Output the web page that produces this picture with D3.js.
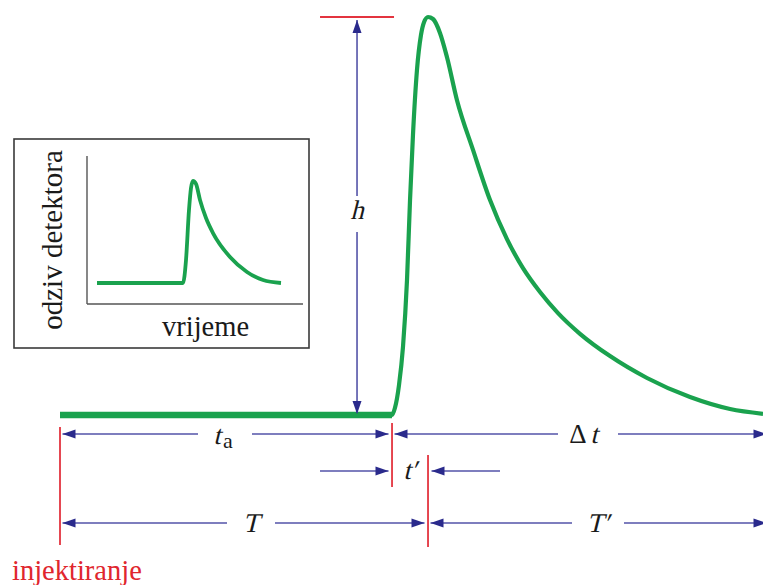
<!DOCTYPE html>
<html><head><meta charset="utf-8">
<script src="https://cdn.jsdelivr.net/npm/d3@7"></script>
<style>
@font-face{font-family:"ChartSerif";src:local("Liberation Serif"),local("LiberationSerif"),local("LiberationSerif-Regular"),local("Tinos"),local("Tinos-Regular");}
body{margin:0;background:#fff}
svg{display:block}
</style>
</head><body><svg id="c" width="763" height="585"></svg>
<script>
// ---- data (time in arbitrary units, response normalised) ----
const peakTime = [0, 4.723, 4.765, 4.822, 4.879, 4.936, 4.979, 5.021, 5.078, 5.135, 5.178, 5.235, 5.306, 5.405, 5.505, 5.647, 5.875, 6.117, 6.358, 6.586, 6.828, 7.084, 7.397, 7.824, 8.350, 8.962, 9.531, 10];
const peakResponse = [0, 0, 0.018, 0.075, 0.171, 0.339, 0.540, 0.704, 0.867, 0.955, 0.987, 1, 0.995, 0.960, 0.899, 0.791, 0.666, 0.540, 0.442, 0.369, 0.309, 0.256, 0.204, 0.148, 0.093, 0.045, 0.015, 0.003];
const insetTime = [0, 4.674, 4.837, 5.0, 5.109, 5.217, 5.380, 5.598, 5.924, 6.304, 7.228, 8.152, 9.022, 10];
const insetResponse = [0, 0, 0.225, 0.716, 0.931, 1, 0.971, 0.814, 0.637, 0.490, 0.255, 0.108, 0.029, 0];
const markerTimes = [0, 4.723, 5.235, 10];          // injection, start, peak, end
const markerNames = ["injektiranje", "start", "peak", "end"];
const dimLabels = ["t", "a", "Δ", "t", "T", "T′", "t′", "h"];
const insetXLabel = "vrijeme";
const insetYLabel = "odziv detektora";

const [tInj, tStart, tPeak, tEnd] = markerTimes;

const svg = d3.select("#c");
const x = d3.scaleLinear().domain([0, 10]).range([60, 763]);
const y = d3.scaleLinear().domain([0, 1]).range([415, 17]);

const GREEN = "#1aa24e", RED = "#e3343f", BLUE = "#5353a8", HEAD = "#2a2a8c", INK = "#1a1a1a";
const FONT = '"Liberation Serif", "ChartSerif", Tinos, "Times New Roman", Times';

// ---- main peak ----
const peakData = peakTime.map((t, i) => [t, peakResponse[i]]);
const line = d3.line().x(d => x(d[0])).y(d => y(d[1])).curve(d3.curveMonotoneX);
svg.append("path").datum(peakData).attr("d", line)
  .attr("fill", "none").attr("stroke", GREEN).attr("stroke-width", 4.2)
  .attr("stroke-linejoin", "round");
svg.append("line").attr("x1", x(tInj)).attr("x2", x(tStart)).attr("y1", y(0)).attr("y2", y(0))
  .attr("stroke", GREEN).attr("stroke-width", 6.5);

// ---- helpers ----
function head(xt, yt, dir) { // tip at (xt,yt)
  const L = 13, W = 4.5;
  let p;
  if (dir === "r") p = [[xt, yt], [xt - L, yt - W], [xt - L, yt + W]];
  if (dir === "l") p = [[xt, yt], [xt + L, yt - W], [xt + L, yt + W]];
  if (dir === "u") p = [[xt, yt], [xt - W, yt + L], [xt + W, yt + L]];
  if (dir === "d") p = [[xt, yt], [xt - W, yt - L], [xt + W, yt - L]];
  svg.append("path").attr("d", "M" + p.map(q => q.join(",")).join("L") + "Z").attr("fill", HEAD);
}
function hseg(x1, x2, yy) {
  svg.append("line").attr("x1", x1).attr("x2", x2).attr("y1", yy).attr("y2", yy)
    .attr("stroke", BLUE).attr("stroke-width", 1.6);
}
function vline(xx, y1, y2, col, w) {
  svg.append("line").attr("x1", xx).attr("x2", xx).attr("y1", y1).attr("y2", y2)
    .attr("stroke", col).attr("stroke-width", w || 1.8);
}
function dim(t1, t2, yy, gapC, gapHalf) {
  const a = x(t1) + 2.5, b = x(t2) - 3.5;
  hseg(a, gapC - gapHalf, yy); hseg(gapC + gapHalf, b, yy);
  head(a, yy, "l"); head(b, yy, "r");
}
function txt(str, px, py, o) {
  o = o || {};
  const t = svg.append("text")
    .attr("text-anchor", o.anchor || "middle")
    .style("font-family", FONT)
    .style("font-size", (o.size || 27) + "px")
    .attr("fill", o.fill || INK).text(str);
  if (o.rotate || o.italic) {
    let tr = `translate(${px},${py})`;
    if (o.rotate) tr += ` rotate(${o.rotate})`;
    if (o.italic) tr += " skewX(-14)";
    t.attr("transform", tr);
  } else {
    t.attr("x", px).attr("y", py);
  }
  return t;
}

// ---- red marker lines ----
vline(x(tInj), 427, 545, RED);
vline(x(tStart), 423, 487, RED);
vline(x(tPeak), 455, 547, RED);
svg.append("line").attr("x1", x(tStart) - 72).attr("x2", x(tStart) + 2)
  .attr("y1", y(1)).attr("y2", y(1)).attr("stroke", RED).attr("stroke-width", 2);

// ---- h arrow ----
const hx = x(tStart) - 35;
vline(hx, y(1) + 3, 196, BLUE, 1.6);
vline(hx, 232, y(0) - 2, BLUE, 1.6);
head(hx, y(1) + 3, "u"); head(hx, y(0) - 1, "d");
txt(dimLabels[7], hx, 219, { italic: true });

// ---- dimension rows ----
const r1 = 434, r2 = 471, r3 = 523;
dim(tInj, tStart, r1, 225, 27);
txt(dimLabels[0], 217, 444, { italic: true });
txt(dimLabels[1], 228, 448, { size: 22 });
dim(tStart, tEnd + 0.1, r1, 588, 30);
txt(dimLabels[2], 578, 443);
txt(dimLabels[3], 594, 443, { italic: true });
dim(tInj, tPeak, r3, 251, 24);
txt(dimLabels[4], 251, 532, { italic: true });
dim(tPeak, tEnd + 0.1, r3, 598, 26);
txt(dimLabels[5], 598, 532, { italic: true });
// t' row
hseg(320, x(tStart) - 3.5, r2); head(x(tStart) - 3.5, r2, "r");
hseg(x(tPeak) + 3.5, 500, r2); head(x(tPeak) + 3.5, r2, "l");
txt(dimLabels[6], 410, 479, { italic: true });

txt(markerNames[0], 12, 580, { anchor: "start", size: 28.5, fill: "#e0262e" });

// ---- inset ----
svg.append("rect").attr("x", 14).attr("y", 139).attr("width", 295).attr("height", 209)
  .attr("fill", "#fff").attr("stroke", "#3a3a3a").attr("stroke-width", 1.6);
svg.append("line").attr("x1", 87).attr("x2", 87).attr("y1", 156).attr("y2", 304)
  .attr("stroke", "#555").attr("stroke-width", 1.4);
svg.append("line").attr("x1", 87).attr("x2", 303).attr("y1", 304).attr("y2", 304)
  .attr("stroke", "#555").attr("stroke-width", 1.4);
const ix = d3.scaleLinear().domain([0, 10]).range([97, 281]);
const iy = d3.scaleLinear().domain([0, 1]).range([283, 181]);
const insetData = insetTime.map((t, i) => [t, insetResponse[i]]);
svg.append("path").datum(insetData)
  .attr("d", d3.line().x(d => ix(d[0])).y(d => iy(d[1])).curve(d3.curveMonotoneX))
  .attr("fill", "none").attr("stroke", GREEN).attr("stroke-width", 3.8)
  .attr("stroke-linejoin", "round").attr("stroke-linecap", "butt");
txt(insetXLabel, 162, 336, { anchor: "start", size: 28.5 });
txt(insetYLabel, 62, 240, { rotate: -90, size: 29 });
</script></body></html>
